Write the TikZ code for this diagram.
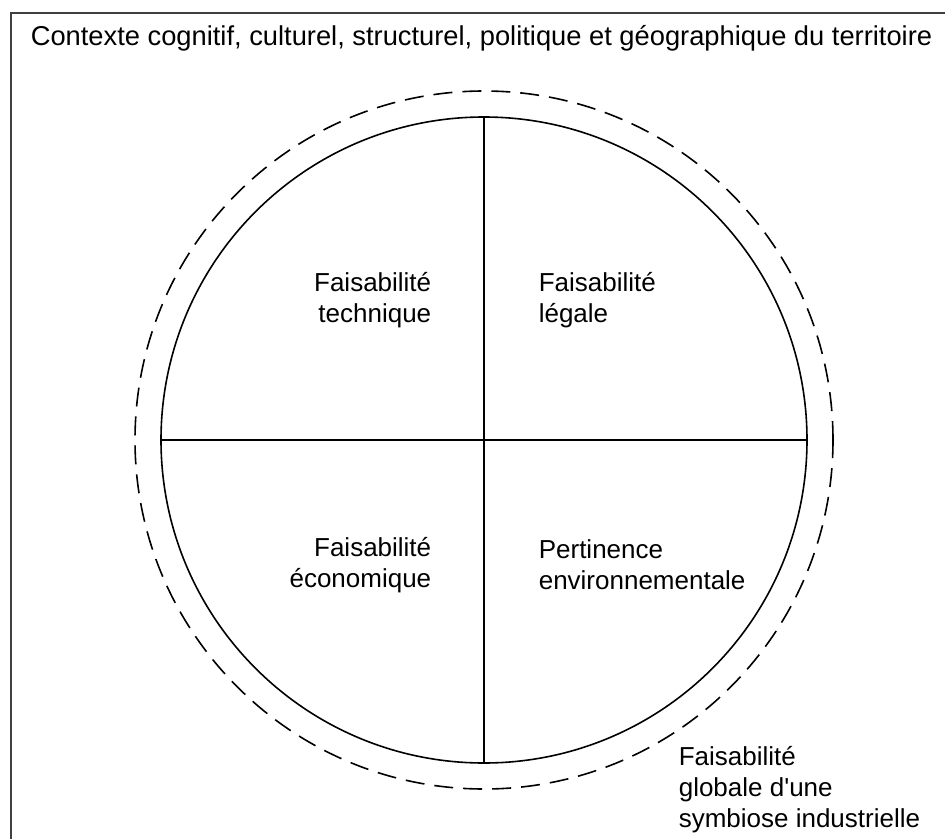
\documentclass[tikz,border=0pt]{standalone}
\usepackage{fontspec}
\setmainfont{Liberation Sans}
\usepackage{tikz}

\begin{document}
\begin{tikzpicture}[x=1pt,y=-1pt,line width=1.6pt,
  txt/.style={font=\fontsize{26}{31}\selectfont,inner sep=0pt},
  ring/.style={circle,draw,inner sep=0pt}]
\useasboundingbox (0,0) rectangle (945,838);
\clip (0,0) rectangle (945,838);
\draw[black!75,line width=2pt] (11,13) rectangle (960,860);
\node[txt,font=\fontsize{27.3}{31}\selectfont,anchor=west] (ctx) at (30,38) {Contexte cognitif, culturel, structurel, politique et géographique du territoire};
\node[ring,minimum size=698pt,dash pattern=on 19pt off 10pt] (G) at (484,440) {};
\node[ring,minimum size=646pt] (C) at (484,440) {};
\draw (C.north) -- (C.south);
\draw (C.west) -- (C.east);
\node[txt,anchor=east,align=right] (tech) at (432,300) {Faisabilité\\technique};
\node[txt,anchor=west,align=left] (leg) at (538,300) {Faisabilité\\légale};
\node[txt,anchor=east,align=right] (eco) at (432,565) {Faisabilité\\économique};
\node[txt,anchor=west,align=left] (env) at (538,565) {Pertinence\\environnementale};
\node[txt,anchor=west,align=left] (glob) at (678,790) {Faisabilité\\globale d\textquotesingle une\\symbiose industrielle};
\end{tikzpicture}
\end{document}
